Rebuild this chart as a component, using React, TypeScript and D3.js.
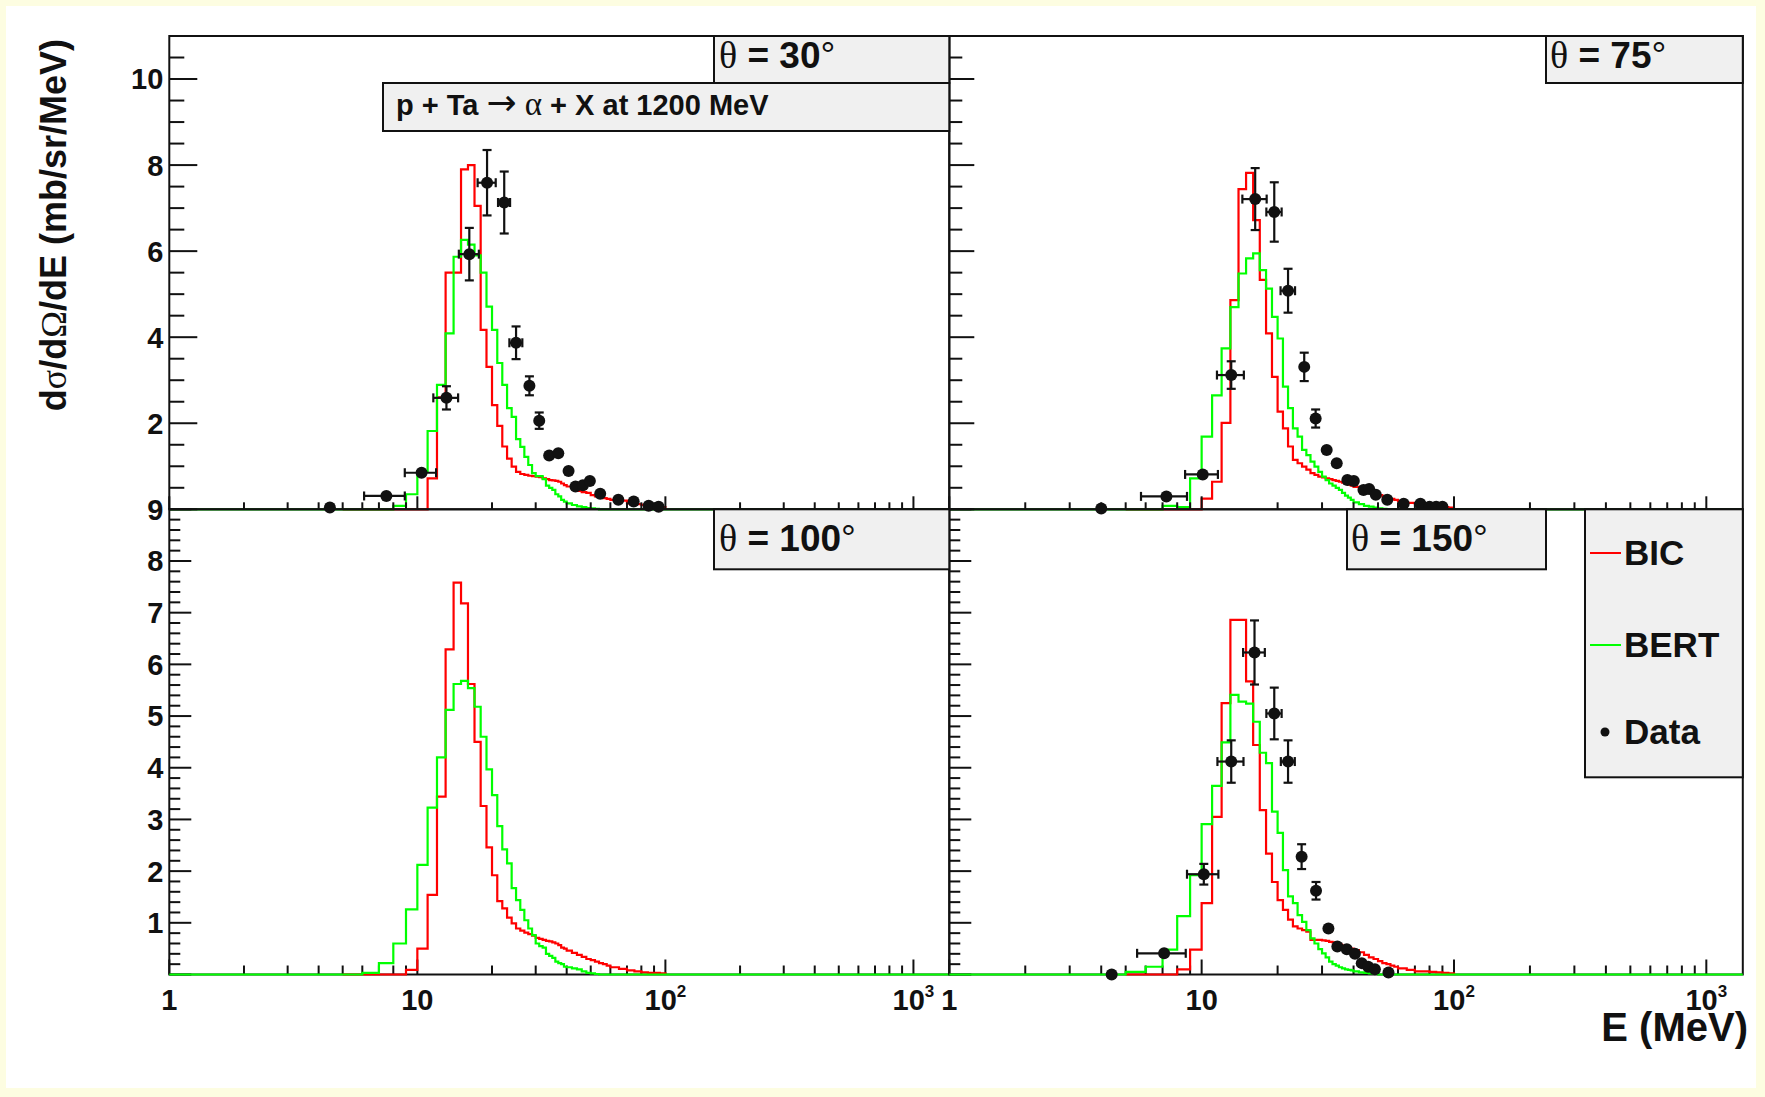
import React from "react";
import * as d3 from "d3";

// ---------------- data ----------------
const binEdges = [5,6,7,8,9,10,11,12,13,14,15,16,17,18,19,20,21,22,23,24,25,26,27,28,29,30,31,32,33,34,35,36,37,38,39,40,42,44,46,48,50,52,54,56,58,60,65,70,75,80,85,90,95,100];

const bic30 = [0,0,0,0,0,0,0.72,2.6,5.5,5.5,7.9,8.0,7.05,4.17,3.31,2.42,1.94,1.46,1.18,0.99,0.87,0.82,0.8,0.78,0.77,0.76,0.75,0.72,0.7,0.68,0.67,0.66,0.64,0.6,0.56,
  0.53,0.5,0.43,0.4,0.38,0.33,0.3,0.28,0.26,0.24, 0.22,0.2,0.14,0.12,0.1,0.08,0.06,0.05];
const bert30 = [0,0,0,0.08,0.35,0.87,1.82,2.89,4.09,5.87,6.26,6.15,5.9,5.5,4.71,4.17,3.4,2.89,2.35,2.15,1.63,1.45,1.22,1.03,0.84,0.77,0.77,0.7,0.55,0.5,0.45,0.35,0.3,0.22,0.18,
  0.14,0.1,0.07,0.05,0.03,0.02,0.01,0,0,0, 0,0,0,0,0,0,0,0];
const bic75 = [0,0,0,0,0,0.25,0.64,2.01,4.86,7.44,7.82,6.72,5.33,4.09,3.08,2.27,1.88,1.46,1.15,1.07,0.99,0.92,0.84,0.8,0.76,0.74,0.72,0.7,0.68,0.66,0.64,0.62,0.6,0.57,0.55,
  0.52,0.48,0.44,0.4,0.36,0.33,0.3,0.27,0.24,0.22, 0.19,0.15,0.12,0.1,0.08,0.06,0.05,0.04];
const bert75 = [0,0,0.08,0.05,0.72,1.69,2.65,3.74,4.7,5.48,5.83,5.95,5.56,5.13,4.47,3.97,2.85,2.35,1.88,1.69,1.38,1.26,1.11,0.99,0.87,0.76,0.68,0.6,0.55,0.5,0.45,0.38,0.32,0.27,0.22,
  0.16,0.12,0.08,0.06,0.04,0.02,0.01,0,0,0, 0,0,0,0,0,0,0,0];
const bic100 = [0,0,0,0,0.09,0.5,1.54,3.44,6.29,7.58,7.18,5.62,4.5,3.26,2.46,1.92,1.42,1.28,1.1,0.99,0.89,0.85,0.81,0.78,0.75,0.71,0.69,0.67,0.65,0.64,0.62,0.6,0.57,0.52,0.5,
  0.46,0.42,0.38,0.34,0.3,0.28,0.25,0.22,0.2,0.17, 0.14,0.11,0.08,0.06,0.04,0.03,0.03,0.02];
const bert100 = [0,0.03,0.22,0.6,1.26,2.12,3.23,4.2,5.12,5.62,5.68,5.54,5.18,4.6,3.97,3.47,2.87,2.42,2.15,1.67,1.44,1.25,1.05,0.89,0.76,0.6,0.55,0.52,0.4,0.36,0.32,0.25,0.22,0.2,0.15,
  0.14,0.12,0.1,0.06,0.03,0.02,0.01,0,0,0, 0,0,0,0,0,0,0,0];
const bic150 = [0,0,0,0.1,0.48,1.38,3.05,5.25,6.86,6.86,5.67,4.44,3.18,2.34,1.79,1.44,1.25,1.06,0.93,0.89,0.86,0.83,0.67,0.67,0.67,0.66,0.65,0.63,0.62,0.6,0.58,0.56,0.54,0.52,0.5,
  0.47,0.43,0.38,0.33,0.3,0.26,0.22,0.2,0.17,0.15, 0.12,0.09,0.06,0.06,0.05,0.04,0.03,0.02];
const bert150 = [0.05,0.15,0.48,1.13,1.92,2.91,3.65,4.49,5.41,5.28,5.24,4.89,4.29,4.09,3.15,2.74,2.02,1.51,1.38,1.15,1.02,0.86,0.7,0.6,0.49,0.41,0.33,0.25,0.2,0.17,0.14,0.12,0.1,0.09,0.08,
  0.06,0.04,0.03,0.02,0.01,0,0,0,0,0, 0,0,0,0,0,0,0,0];

const dataE30 = [4.44,7.5,10.4,13.1,16.2,19.1,22.4,25.0,28.3,31.0,34.0,37.0,40.7,43.4,46.5,49.6,54.6,64.6,74.5,85.6,93.9];
const dataV30 = [0.04,0.31,0.85,2.59,5.93,7.59,7.13,3.87,2.87,2.06,1.25,1.3,0.89,0.53,0.56,0.66,0.36,0.22,0.18,0.08,0.06];
const dataEx30 = [0,1.4,1.5,1.5,1.5,1.6,1.25,1.5,1.0,0.8,0.8,0.8,0,0,0,0,0,0,0,0,0];
const dataEy30 = [0,0.05,0.06,0.27,0.61,0.76,0.72,0.38,0.22,0.19,0.08,0.08,0.05,0.03,0.03,0.03,0,0,0,0,0];

const dataE75 = [4.0,7.25,10.1,13.1,16.3,19.4,22.0,25.5,28.3,31.3,34.3,37.8,40.1,43.8,46.1,49.0,54.4,63.2,73.6,80,85,90];
const dataV75 = [0.02,0.3,0.81,3.12,7.21,6.91,5.08,3.31,2.11,1.38,1.07,0.68,0.66,0.45,0.47,0.34,0.22,0.13,0.13,0.06,0.06,0.06];
const dataEx75 = [0,1.5,1.5,1.6,1.8,1.35,1.45,1.0,0.8,0.7,0.7,0,0,0,0,0,0,0,0,0,0,0];
const dataEy75 = [0,0.03,0.06,0.32,0.72,0.69,0.51,0.33,0.21,0.06,0.05,0,0,0,0,0,0,0,0,0,0,0];

const dataE150 = [4.4,7.1,10.2,13.1,16.2,19.4,22.0,24.9,28.4,31.8,34.5,37.6,40.5,43.1,45.7,48.6,55];
const dataV150 = [0.0,0.41,1.94,4.12,6.23,5.05,4.12,2.28,1.62,0.89,0.54,0.49,0.4,0.22,0.15,0.1,0.04];
const dataEx150 = [0,1.55,1.45,1.55,1.6,1.35,1.4,0.8,0.7,0.6,0,0,0,0,0,0,0];
const dataEy150 = [0,0.05,0.2,0.41,0.62,0.5,0.41,0.24,0.17,0.05,0,0,0,0,0,0,0];

const xTickLabels = [
  { v: 1, base: "1", exp: "" },
  { v: 10, base: "10", exp: "" },
  { v: 100, base: "10", exp: "2" },
  { v: 1000, base: "10", exp: "3" },
];
const yLabelsTop = [2, 4, 6, 8, 10];
const yLabelsBottom = [1, 2, 3, 4, 5, 6, 7, 8, 9];
const angleLabels = ["30", "75", "100", "150"];
const reactionText = ["p + Ta ", "→", " ", "α", " + X at 1200 MeV"];
const legendLabels = ["BIC", "BERT", "Data"];
const xTitle = "E (MeV)";

const E_MIN = 1;
const E_MAX = 1395;

// ---------------- layout ----------------
const W = 1765;
const H = 1097;
const FONT = "'Liberation Sans', Arial, Helvetica, sans-serif";
const SYM = "'Liberation Serif', 'DejaVu Serif', serif";
const RED = "#ff0000";
const GREEN = "#00ff00";
const INK = "#111";

const XL0 = 169.3, XM = 949.3, XR1 = 1742.8;
const YT0 = 36, YM = 509.3, YB1 = 974.5;

type Panel = {
  x0: number; x1: number; y0: number; y1: number;
  ymax: number; yMajor: number; yMinor: number;
  yLabels: number[] | null; xLabels: boolean;
  yTick: [number, number]; xTick: [number, number];
  bic: number[]; bert: number[];
  dE?: number[]; dV?: number[]; dEx?: number[]; dEy?: number[];
  histOnTop: boolean;
};

const panels: Panel[] = [
  { x0: XL0, x1: XM, y0: YT0, y1: YM, ymax: 11, yMajor: 2, yMinor: 0.5, yLabels: yLabelsTop, xLabels: false,
    yTick: [28, 15], xTick: [13, 7], bic: bic30, bert: bert30, dE: dataE30, dV: dataV30, dEx: dataEx30, dEy: dataEy30, histOnTop: false },
  { x0: XM, x1: XR1, y0: YT0, y1: YM, ymax: 11, yMajor: 2, yMinor: 0.5, yLabels: null, xLabels: false,
    yTick: [25, 13], xTick: [13, 7], bic: bic75, bert: bert75, dE: dataE75, dV: dataV75, dEx: dataEx75, dEy: dataEy75, histOnTop: false },
  { x0: XL0, x1: XM, y0: YM, y1: YB1, ymax: 9, yMajor: 1, yMinor: 0.2, yLabels: yLabelsBottom, xLabels: true,
    yTick: [22, 11], xTick: [15, 9], bic: bic100, bert: bert100, histOnTop: true },
  { x0: XM, x1: XR1, y0: YM, y1: YB1, ymax: 9, yMajor: 1, yMinor: 0.2, yLabels: null, xLabels: true,
    yTick: [22, 11], xTick: [15, 9], bic: bic150, bert: bert150, dE: dataE150, dV: dataV150, dEx: dataEx150, dEy: dataEy150, histOnTop: true },
];

function histPath(edges: number[], vals: number[], x: any, y: any, from?: number, to?: number) {
  const p = d3.path();
  const start = from ?? edges[0];
  p.moveTo(x(start), y(0));
  p.lineTo(x(edges[0]), y(0));
  vals.forEach((v, i) => {
    p.lineTo(x(edges[i]), y(v));
    p.lineTo(x(edges[i + 1]), y(v));
  });
  p.lineTo(x(edges[edges.length - 1]), y(0));
  if (to !== undefined) p.lineTo(x(to), y(0));
  return p.toString();
}

function PanelView({ p }: { p: Panel }) {
  const x = d3.scaleLog().domain([E_MIN, E_MAX]).range([p.x0, p.x1]);
  const y = d3.scaleLinear().domain([0, p.ymax]).range([p.y1, p.y0]);
  const yt = d3.range(0, p.ymax + 1e-6, p.yMinor);
  const xt = x.ticks();

  const axes = (
    <g stroke={INK} strokeWidth={2}>
      <rect x={p.x0} y={p.y0} width={p.x1 - p.x0} height={p.y1 - p.y0} fill="none" />
      {yt.map((v, i) => {
        const r = v / p.yMajor;
        const major = Math.abs(r - Math.round(r)) < 1e-6;
        const len = major ? p.yTick[0] : p.yTick[1];
        return <line key={"y" + i} x1={p.x0} x2={p.x0 + len} y1={y(v)} y2={y(v)} />;
      })}
      {xt.map((v, i) => {
        const lg = Math.log10(v);
        const major = Math.abs(lg - Math.round(lg)) < 1e-6;
        const len = major ? p.xTick[0] : p.xTick[1];
        return <line key={"x" + i} x1={x(v)} x2={x(v)} y1={p.y1} y2={p.y1 - len} />;
      })}
    </g>
  );

  const labels = (
    <g fontFamily={FONT} fontWeight="bold" fill={INK}>
      {p.yLabels && p.yLabels.map((v) => (
        <text key={"yl" + v} x={p.x0 - 6} y={y(v)} dy="0.36em" textAnchor="end" fontSize={29}>{v}</text>
      ))}
      {p.xLabels && xTickLabels.map((t) => (
        <text key={"xl" + t.v} x={x(t.v)} y={p.y1 + 35} textAnchor="middle" fontSize={29}>
          {t.base}
          {t.exp && <tspan fontSize={17} dy={-13}>{t.exp}</tspan>}
        </text>
      ))}
    </g>
  );

  const hist = (
    <g fill="none" strokeWidth={2.2} strokeLinejoin="miter">
      <path d={histPath(binEdges, p.bic, x, y)} stroke={RED} />
      <path d={histPath(binEdges, p.bert, x, y, E_MIN, E_MAX)} stroke={GREEN} />
    </g>
  );

  const r = 6;
  const cap = 4.5;
  const points = p.dE ? (
    <g stroke={INK} strokeWidth={2.2} fill={INK}>
      {p.dE.map((e, i) => {
        const v = p.dV![i];
        const ex = p.dEx![i];
        const ey = p.dEy![i];
        const cx = x(e);
        const cy = y(v);
        const xa = ex > 0 ? x(e - ex) : cx;
        const xb = ex > 0 ? x(e + ex) : cx;
        const ya = y(v + ey);
        const yb = y(v - ey);
        const showX = cx - xa > r - 1;
        const showY = yb - cy > r - 1;
        return (
          <g key={"d" + i}>
            {showX && (
              <g>
                <line x1={xa} x2={xb} y1={cy} y2={cy} />
                <line x1={xa} x2={xa} y1={cy - cap} y2={cy + cap} />
                <line x1={xb} x2={xb} y1={cy - cap} y2={cy + cap} />
              </g>
            )}
            {showY && (
              <g>
                <line x1={cx} x2={cx} y1={ya} y2={yb} />
                <line x1={cx - cap} x2={cx + cap} y1={ya} y2={ya} />
                <line x1={cx - cap} x2={cx + cap} y1={yb} y2={yb} />
              </g>
            )}
            <circle cx={cx} cy={cy} r={r} stroke="none" />
          </g>
        );
      })}
    </g>
  ) : null;

  return (
    <g>
      {p.histOnTop ? <>{axes}{hist}</> : <>{hist}{axes}</>}
      {points}
      {labels}
    </g>
  );
}

function AngleBox({ x, y, w, h, tx, ty, angle }: { x: number; y: number; w: number; h: number; tx: number; ty: number; angle: string }) {
  return (
    <g>
      <rect x={x} y={y} width={w} height={h} fill="#f0f0f0" stroke={INK} strokeWidth={2} />
      <text x={tx} y={ty} fontFamily={FONT} fontWeight="bold" fontSize={37} fill={INK}>
        <tspan fontFamily={SYM} fontWeight="normal" fontSize={38}>θ</tspan>
        {" = " + angle}
        <tspan fontWeight="normal">°</tspan>
      </text>
    </g>
  );
}

export default function App() {
  return (
    <div style={{ position: "absolute", left: 0, top: 0 }}>
      <svg width={W} height={H} viewBox={`0 0 ${W} ${H}`} style={{ display: "block" }}>
        <rect width={W} height={H} fill="#fdfde1" />
        <rect x={6} y={6} width={1750} height={1082} fill="#ffffff" />
        {panels.map((p, i) => <PanelView key={i} p={p} />)}

        {/* panel label boxes */}
        <AngleBox x={714} y={YT0} w={XM - 714} h={47} tx={719} ty={68} angle={angleLabels[0]} />
        <rect x={383} y={83} width={XM - 383} height={48} fill="#f0f0f0" stroke={INK} strokeWidth={2} />
        <text x={396} y={115} fontFamily={FONT} fontWeight="bold" fontSize={29} fill={INK}>
          {reactionText[0]}
          <tspan fontFamily="'DejaVu Sans', sans-serif" fontWeight="normal" fontSize={36}>{reactionText[1]}</tspan>
          {reactionText[2]}
          <tspan fontFamily={SYM} fontWeight="normal" fontSize={33}>{reactionText[3]}</tspan>
          {reactionText[4]}
        </text>
        <AngleBox x={1546} y={YT0} w={XR1 - 1546} h={47} tx={1550} ty={68} angle={angleLabels[1]} />
        <AngleBox x={714} y={YM} w={XM - 714} h={60} tx={719} ty={551} angle={angleLabels[2]} />
        <AngleBox x={1347} y={YM} w={1546 - 1347} h={60} tx={1351} ty={551} angle={angleLabels[3]} />

        {/* legend */}
        <g>
          <rect x={1585} y={YM} width={XR1 - 1585} height={268} fill="#f0f0f0" stroke={INK} strokeWidth={2} />
          <line x1={1590} x2={1621} y1={553} y2={553} stroke={RED} strokeWidth={2} />
          <line x1={1590} x2={1621} y1={645} y2={645} stroke={GREEN} strokeWidth={2} />
          <circle cx={1605} cy={732} r={4.5} fill={INK} />
          <g fontFamily={FONT} fontWeight="bold" fontSize={35} fill={INK}>
            <text x={1624} y={565}>{legendLabels[0]}</text>
            <text x={1624} y={657}>{legendLabels[1]}</text>
            <text x={1624} y={744}>{legendLabels[2]}</text>
          </g>
        </g>

        {/* axis titles */}
        <text transform="translate(66,39) rotate(-90)" textAnchor="end" fontFamily={FONT} fontWeight="bold" fontSize={36} fill={INK}>
          d<tspan fontFamily={SYM} fontWeight="normal">σ</tspan>/d<tspan fontFamily={SYM} fontWeight="normal">Ω</tspan>/dE (mb/sr/MeV)
        </text>
        <text x={1748} y={1041} textAnchor="end" fontFamily={FONT} fontWeight="bold" fontSize={40} fill={INK}>{xTitle}</text>
      </svg>
    </div>
  );
}
